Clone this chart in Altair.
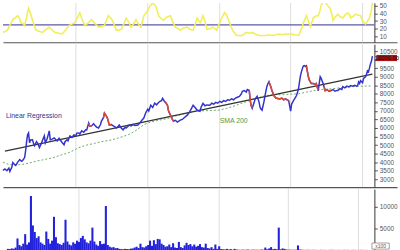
import altair as alt
import pandas as pd

# ---------------- data ----------------
price_t = [0, 2, 4, 6, 7, 9, 10, 12, 13, 15, 17, 19, 20, 22, 23, 24, 25, 26, 27, 28, 30, 31, 32, 34, 35, 36, 37, 39, 40, 42,
           43, 45, 47, 48, 50, 52, 54, 55, 57, 58, 60, 62, 63, 65, 66, 68, 70, 72, 74, 75, 77, 78, 80, 82, 84, 85, 87, 88, 90, 92,
           93, 95, 97, 99, 100, 102, 103, 105, 106, 108, 110, 112, 114, 115, 117, 118, 120, 122, 124, 125, 127, 128, 130, 132, 134, 137, 139, 141, 143, 145,
           147, 148, 150, 152, 154, 156, 157, 159, 161, 162, 164, 165, 167, 168, 170, 172, 173, 175, 177, 180, 182, 184, 187, 189, 191, 193, 195, 197, 200, 201,
           203, 205, 207, 210, 212, 214, 216, 218, 220, 222, 224, 226, 228, 230, 232, 234, 236, 238, 240, 242, 243, 245, 247, 248, 250, 251, 252, 253, 255, 256,
           258, 260, 261, 262, 263, 264, 265, 266, 267, 268, 269, 270, 271, 272, 273, 275, 277, 279, 281, 283, 285, 287, 289, 290, 291, 292, 293, 295, 296, 297,
           298, 299, 300, 301, 302, 303, 304, 305, 306, 307, 308, 309, 310, 311, 312, 313, 315, 317, 318, 319, 320, 321, 322, 323, 324, 325, 326, 327, 329, 331,
           333, 335, 337, 339, 340, 342, 344, 345, 347, 349, 351, 353, 355, 357, 359, 360, 361, 362, 363, 365, 366, 368, 369, 370, 371, 372, 373, 374, 375]
price_v = [3520, 3600, 3500, 3650, 3460, 3700, 3980, 3850, 3810, 4000, 4150, 4050, 4100, 4270, 4670, 5200, 5600, 5710, 5130, 5300, 5310, 5100, 4960, 5200, 5130, 5000, 4850, 5100, 5250, 5540,
           5130, 5400, 5830, 5310, 5350, 5420, 5300, 5250, 5400, 5310, 5150, 5020, 5200, 5310, 5250, 5540, 5450, 5600, 5550, 5700, 5710, 5650, 5830, 5750, 5900, 5890, 6290, 6100, 6120, 6250,
           6170, 6050, 6000, 6200, 6400, 6600, 6870, 6700, 6580, 6170, 6200, 6120, 6050, 6000, 6100, 6170, 6000, 5890, 6050, 6000, 6100, 6170, 6120, 6200, 6150, 6170, 6300, 6450, 6580, 6900,
           7100, 7000, 7330, 7200, 7450, 7350, 7440, 7550, 7600, 7730, 7550, 7500, 7330, 7000, 6750, 6500, 6400, 6450, 6350, 6460, 6500, 6600, 6750, 6900, 7100, 7330, 7200, 7050, 6980, 7200,
           7440, 7300, 7350, 7330, 7450, 7400, 7500, 7450, 7560, 7500, 7600, 7550, 7650, 7620, 7700, 7650, 7750, 7800, 7850, 8000, 8150, 8190, 8100, 8250, 8190, 7600, 7300, 7150, 7500, 7700,
           7850, 7500, 7200, 7100, 7040, 7300, 7560, 7900, 8190, 8450, 8600, 8710, 8550, 8400, 8200, 7900, 7750, 7730, 7700, 7750, 7650, 7700, 7620, 7600, 7300, 6980, 7400, 7620, 7700, 7800,
           7900, 8100, 8310, 8700, 9060, 9300, 9500, 9640, 9650, 9600, 9640, 9300, 9000, 8800, 8700, 8600, 8600, 8550, 8600, 8400, 8190, 8600, 9000, 8900, 8750, 8600, 8400, 8190, 8250, 8150,
           8190, 8250, 8150, 8200, 8190, 8300, 8250, 8420, 8350, 8450, 8400, 8480, 8450, 8500, 8450, 8480, 8700, 8600, 8770, 8650, 8900, 9000, 9150, 9350, 9300, 9500, 9750, 9900, 10200]

red_ranges = [(86, 90), (102, 110), (164, 173), (250, 254), (270, 290), (308, 320), (326, 334)]

sma_t = [0, 4, 8, 14, 20, 27, 33, 40, 50, 58, 67, 72, 77, 85, 93, 100, 110, 118, 127, 135, 143, 150, 158, 167, 175,
         185, 193, 200, 210, 220, 227, 233, 240, 250, 258, 267, 275, 285, 293, 300, 308, 317, 323, 335, 345, 355, 367, 375]
sma_v = [4000, 3900, 3850, 3840, 3870, 3950, 4050, 4130, 4250, 4400, 4560, 4700, 4850, 5000, 5100, 5200, 5300, 5430, 5600, 5850, 6200, 6350, 6450, 6550, 6700,
         6850, 6950, 7000, 7020, 7050, 7150, 7250, 7400, 7600, 7750, 7900, 7950, 7950, 7980, 8000, 8100, 8200, 8250, 8300, 8370, 8420, 8450, 8460]

lr_t = [2, 375]
lr_v = [4650, 9150]

adx_t = [0, 3, 5, 8, 10, 13, 15, 17, 18, 20, 22, 24, 26, 28, 30, 32, 33, 36, 40, 43, 47, 50, 53, 57, 60, 63, 67, 70, 73, 76,
         78, 80, 83, 86, 90, 93, 97, 100, 103, 105, 107, 110, 112, 115, 118, 120, 123, 125, 128, 130, 133, 135, 138, 140, 142, 143, 146, 148, 150, 152,
         155, 157, 158, 160, 163, 166, 170, 172, 175, 178, 180, 183, 187, 190, 193, 195, 197, 199, 200, 202, 203, 205, 207, 210, 213, 215, 217, 219, 222, 225,
         227, 229, 233, 237, 240, 243, 245, 247, 250, 253, 256, 260, 263, 267, 270, 273, 277, 280, 284, 287, 290, 293, 296, 300, 302, 305, 307, 308, 310, 312,
         314, 315, 318, 320, 322, 323, 325, 327, 330, 332, 334, 335, 337, 340, 342, 345, 347, 350, 352, 353, 355, 358, 360, 363, 365, 368, 370, 372, 374, 375]
adx_v = [15, 17, 19, 27, 32, 35, 37, 33, 28, 27, 24, 35, 47, 40, 31, 24, 19, 17, 15, 18, 22, 18, 15, 14, 13, 17, 24, 26, 28, 36,
         41, 33, 24, 27, 32, 27, 22, 23, 24, 31, 37, 33, 28, 18, 18, 19, 27, 34, 28, 22, 27, 32, 25, 22, 31, 37, 42, 47, 51, 54,
         50, 42, 37, 34, 31, 35, 37, 30, 22, 20, 18, 21, 22, 19, 18, 25, 34, 30, 28, 33, 37, 30, 19, 20, 22, 20, 18, 25, 34, 41,
         38, 31, 18, 11, 11, 11, 13, 15, 14, 15, 13, 11, 11, 11, 12, 11, 12, 13, 12, 13, 13, 13, 12, 11, 16, 28, 34, 37, 30, 23,
         30, 34, 37, 37, 45, 51, 55, 55, 50, 47, 38, 31, 35, 39, 36, 34, 38, 41, 38, 34, 36, 39, 38, 37, 30, 26, 30, 34, 45, 54]
adx_level = 25

# volume, one value every second trading-day index (index * 2)
vol = [300, 250, 400, 350, 600, 2700, 1200, 900, 1500, 3700,
       1300, 1800, 12500, 5700, 4200, 2800, 3200, 1800, 1500, 1200,
       4300, 2600, 1500, 2200, 7700, 3000, 1600, 1400, 1200, 1700,
       7000, 2000, 1300, 1100, 1800, 1500, 2200, 1900, 2800, 3300,
       2500, 1800, 1600, 2200, 5200, 2000, 1300, 1000, 2100, 1400,
       1500, 10200, 1200, 800, 600, 700, 450, 500, 300, 250,
       200, 300, 250, 200, 350, 400, 600, 800, 500, 1500,
       700, 600, 900, 1200, 2200, 1000, 2300, 1400, 2600, 2500,
       1500, 1200, 800, 900, 1300, 700, 1600, 600, 500, 1900,
       700, 500, 1100, 1700, 1200, 1400, 900, 1300, 800, 1000,
       1400, 700, 600, 1500, 500, 400, 700, 300, 1300, 300,
       900, 250, 200, 150, 300, 150, 250, 100, 300, 150,
       100, 80, 120, 90, 100, 150, 80, 100, 120, 90,
       100, 80, 150, 100, 600, 200, 400, 700, 200, 300,
       200, 5200, 200, 400, 300, 150, 100, 120, 80, 100,
       90, 1100, 150, 100, 80, 60, 90, 70, 60, 80,
       70, 60, 50, 80, 60, 70, 50, 60, 80, 70,
       60, 50, 70, 60, 50, 80, 60, 70, 50, 60,
       70, 60, 50, 60, 70, 60, 50, 60]

year_marks = [74, 147, 220, 292, 365]
price_ticks = [3000, 3500, 4000, 4500, 5000, 5500, 6000, 6500, 7000, 7500, 8000, 8500, 9000, 9500, 10000, 10500]
adx_ticks = [10, 20, 30, 40, 50]
vol_ticks = [5000, 10000]
last_label = "10000.00"
last_price = 10095

# ---------------- frames ----------------
price_df = pd.DataFrame({"t": price_t, "v": price_v})
rows = []
for i, (a, b) in enumerate(red_ranges):
    for t, v in zip(price_t, price_v):
        if a <= t <= b:
            rows.append({"t": t, "v": v, "seg": i})
red_df = pd.DataFrame(rows)
sma_df = pd.DataFrame({"t": sma_t, "v": sma_v})
lr_df = pd.DataFrame({"t": lr_t, "v": lr_v})
adx_df = pd.DataFrame({"t": adx_t, "v": adx_v})
vol_df = pd.DataFrame({"t": [i * 2 for i in range(len(vol))], "v": vol})
grid_df = pd.DataFrame({"t": year_marks})
PLOT_END = 377

FONT = "Liberation Sans"
W = 400
xs = alt.Scale(domain=[0, 400], nice=False, zero=False)
x_hidden = alt.Axis(labels=False, ticks=False, grid=False, domain=True, domainColor="#555555",
                    domainWidth=1.2, title=None)
x_bottom = alt.Axis(labels=False, ticks=True, tickSize=3, tickColor="#555555", grid=False, domain=True,
                    domainColor="#555555", title=None,
                    values=[round(3 + 7.7 * k, 1) for k in range(49)])


def yaxis(vals, hide=None):
    expr = "datum.label"
    if hide is not None:
        expr = f"datum.value == {hide} ? '' : datum.label"
    return alt.Axis(values=vals, orient="right", offset=-(W - PLOT_END), grid=False, title=None,
                    format="d", labelExpr=expr,
                    domainColor="#333333", tickColor="#555555", tickSize=3, labelFontSize=6.5,
                    labelColor="#555555", labelFont=FONT, labelPadding=2, labelFlush=False)


def grid_layer(xax):
    return alt.Chart(grid_df).mark_rule(color="#dddddd", strokeWidth=1).encode(
        x=alt.X("t:Q", scale=xs, axis=xax))


# ---------------- top panel (ADX) ----------------
ys_adx = alt.Scale(domain=[2, 54], nice=False, zero=False)
yax_adx = yaxis(adx_ticks)
top = alt.layer(
    grid_layer(x_hidden),
    alt.Chart(pd.DataFrame({"t0": [0], "t1": [PLOT_END], "v": [adx_level]})).mark_rule(
        color="#5a5aa8", strokeWidth=1.2).encode(
        x=alt.X("t0:Q", scale=xs, axis=x_hidden), x2="t1:Q",
        y=alt.Y("v:Q", scale=ys_adx, axis=yax_adx)),
    alt.Chart(adx_df).mark_line(color="#f2ee5a", strokeWidth=1.6, clip=True).encode(
        x=alt.X("t:Q", scale=xs, axis=x_hidden),
        y=alt.Y("v:Q", scale=ys_adx, axis=yax_adx)),
).properties(width=W, height=40)

# ---------------- main panel (price) ----------------
ys_p = alt.Scale(domain=[2540, 10900], nice=False, zero=False)
yax_p = yaxis(price_ticks, hide=10000)
Xp = alt.X("t:Q", scale=xs, axis=x_hidden)
Yp = alt.Y("v:Q", scale=ys_p, axis=yax_p)
main = alt.layer(
    grid_layer(x_hidden),
    alt.Chart(sma_df).mark_line(color="#6aa86a", strokeWidth=1, strokeDash=[2, 2]).encode(x=Xp, y=Yp),
    alt.Chart(lr_df).mark_line(color="#333333", strokeWidth=1.4).encode(x=Xp, y=Yp),
    alt.Chart(price_df).mark_line(color="#3232cc", strokeWidth=1.5).encode(x=Xp, y=Yp),
    alt.Chart(red_df).mark_line(color="#e0482a", strokeWidth=1.5).encode(x=Xp, y=Yp, detail="seg:N"),
    alt.Chart(pd.DataFrame({"t": [3], "v": [6690], "s": ["Linear Regression"]})).mark_text(
        align="left", baseline="middle", fontSize=7, font=FONT, color="#333388").encode(x=Xp, y=Yp, text="s:N"),
    alt.Chart(pd.DataFrame({"t": [220], "v": [6400], "s": ["SMA 200"]})).mark_text(
        align="left", baseline="middle", fontSize=7, font=FONT, color="#4a9a4a").encode(x=Xp, y=Yp, text="s:N"),
    alt.Chart(pd.DataFrame({"t": [379], "t1": [400], "v": [last_price - 180], "v1": [last_price + 180]})).mark_rect(
        color="#a81818").encode(x=Xp, x2="t1:Q", y=Yp, y2="v1:Q"),
    alt.Chart(pd.DataFrame({"t": [389.5], "v": [last_price], "s": [last_label]})).mark_text(
        align="center", baseline="middle", fontSize=6, font=FONT, color="#1a0000").encode(x=Xp, y=Yp, text="s:N"),
).properties(width=W, height=145)

# ---------------- volume panel ----------------
ys_v = alt.Scale(domain=[0, 14100], nice=False, zero=True)
yax_v = yaxis(vol_ticks)
Xv = alt.X("t:Q", scale=xs, axis=x_bottom)
Yv = alt.Y("v:Q", scale=ys_v, axis=yax_v)
volp = alt.layer(
    grid_layer(x_bottom),
    alt.Chart(vol_df).mark_bar(color="#2222dd", size=2.1).encode(x=Xv, y=Yv),
    alt.Chart(pd.DataFrame({"t": [379], "t1": [397], "v": [250], "v1": [1650]})).mark_rect(
        fill="#ffffff", stroke="#888888", strokeWidth=0.8).encode(x=Xv, x2="t1:Q", y=Yv, y2="v1:Q"),
    alt.Chart(pd.DataFrame({"t": [388], "v": [950], "s": ["x100"]})).mark_text(
        align="center", baseline="middle", fontSize=5, font=FONT, color="#555555").encode(x=Xv, y=Yv, text="s:N"),
).properties(width=W, height=62)

chart = alt.vconcat(top, main, volp, spacing=0).properties(padding=0).configure_view(stroke=None)

chart.save("out.html", embed_options={"renderer": "svg", "actions": False})
